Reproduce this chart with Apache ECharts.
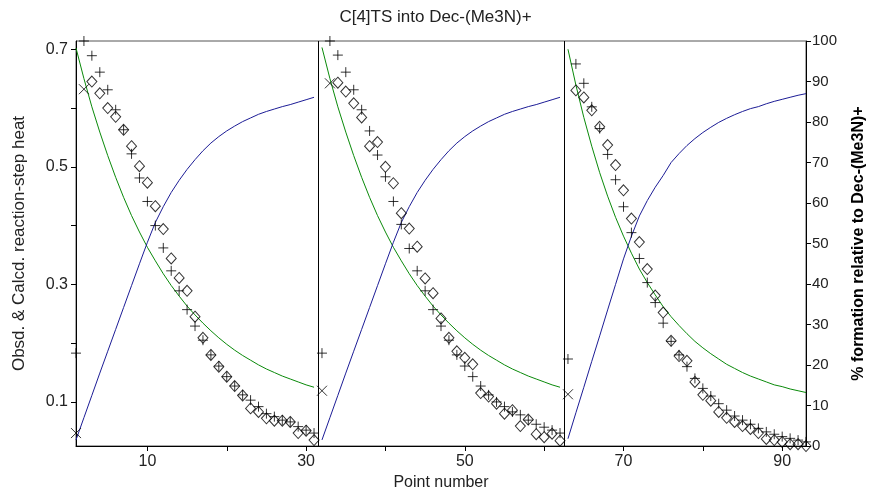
<!DOCTYPE html>
<html>
<head>
<meta charset="utf-8">
<title>C[4]TS into Dec-(Me3N)+</title>
<script src="https://cdn.jsdelivr.net/npm/echarts@6/dist/echarts.min.js"></script>
<style>
  html, body { margin: 0; padding: 0; background: #fff; }
  #chart { width: 871px; height: 490px; }
</style>
</head>
<body>
<div id="chart"></div>
<script>
// Three injection runs, 31 points each; first point number of each run
const runStart = [1, 32, 63];

// Observed reaction-step heat (+), one array per run
const obsd1 = [0.183, 0.714, 0.689, 0.661, 0.631, 0.597, 0.563, 0.522, 0.481, 0.441, 0.400, 0.362, 0.323, 0.289, 0.257, 0.229, 0.205, 0.180, 0.161, 0.143, 0.127, 0.112, 0.103, 0.092, 0.080, 0.075, 0.069, 0.066, 0.058, 0.052, 0.047];
const obsd2 = [0.183, 0.714, 0.690, 0.661, 0.631, 0.597, 0.561, 0.520, 0.483, 0.441, 0.402, 0.361, 0.323, 0.289, 0.257, 0.229, 0.205, 0.180, 0.161, 0.143, 0.127, 0.112, 0.100, 0.092, 0.083, 0.078, 0.069, 0.062, 0.057, 0.052, 0.047];
const obsd3 = [0.173, 0.675, 0.642, 0.602, 0.565, 0.521, 0.478, 0.432, 0.388, 0.344, 0.303, 0.269, 0.234, 0.203, 0.180, 0.160, 0.140, 0.123, 0.110, 0.097, 0.086, 0.076, 0.069, 0.062, 0.055, 0.049, 0.045, 0.041, 0.038, 0.035, 0.032];

// Calculated reaction-step heat (diamonds); null = point left out of the fit
const calcd1 = [null, null, 0.645, 0.625, 0.600, 0.585, 0.563, 0.535, 0.501, 0.473, 0.433, 0.394, 0.344, 0.311, 0.289, 0.245, 0.209, 0.180, 0.160, 0.143, 0.127, 0.111, 0.089, 0.083, 0.072, 0.068, 0.068, 0.066, 0.047, 0.051, 0.035];
const calcd2 = [null, null, 0.643, 0.628, 0.608, 0.584, 0.535, 0.542, 0.500, 0.472, 0.421, 0.395, 0.364, 0.310, 0.285, 0.242, 0.209, 0.186, 0.175, 0.164, 0.115, 0.109, 0.097, 0.080, 0.086, 0.059, 0.070, 0.045, 0.040, 0.046, 0.034];
const calcd3 = [null, 0.630, 0.618, 0.596, 0.568, 0.537, 0.503, 0.460, 0.412, 0.372, 0.326, 0.281, 0.252, 0.204, 0.178, 0.170, 0.134, 0.112, 0.102, 0.083, 0.073, 0.066, 0.059, 0.054, 0.047, 0.037, 0.035, 0.032, 0.028, 0.028, 0.025];

// Points excluded from the fit (x marks)
const exclPoint = [1, 2, 32, 33, 63];
const exclHeat  = [0.047, 0.632, 0.119, 0.642, 0.113];

// Model heat curve (green), per run
const model1 = [0.702, 0.650, 0.602, 0.559, 0.519, 0.482, 0.448, 0.417, 0.389, 0.363, 0.340, 0.318, 0.298, 0.280, 0.263, 0.248, 0.234, 0.221, 0.209, 0.198, 0.188, 0.179, 0.171, 0.163, 0.156, 0.150, 0.144, 0.139, 0.134, 0.129, 0.125];
const model2 = [0.703, 0.650, 0.602, 0.559, 0.519, 0.482, 0.448, 0.417, 0.389, 0.363, 0.340, 0.318, 0.298, 0.280, 0.263, 0.248, 0.234, 0.221, 0.209, 0.198, 0.188, 0.179, 0.171, 0.163, 0.156, 0.150, 0.144, 0.139, 0.134, 0.129, 0.125];
const model3 = [0.700, 0.639, 0.584, 0.535, 0.490, 0.450, 0.414, 0.382, 0.353, 0.326, 0.303, 0.282, 0.262, 0.245, 0.230, 0.216, 0.203, 0.192, 0.182, 0.173, 0.164, 0.157, 0.150, 0.144, 0.139, 0.134, 0.129, 0.126, 0.122, 0.119, 0.116];

// % formation relative to Dec-(Me3N)+ (blue, right axis), per run
const formation1 = [1.5, 7.0, 12.5, 18.0, 23.4, 28.8, 34.2, 39.6, 45.0, 50.3, 55.2, 59.1, 62.6, 65.6, 68.3, 70.7, 72.9, 74.8, 76.4, 77.8, 79.0, 80.1, 81.0, 81.9, 82.6, 83.2, 83.8, 84.3, 84.9, 85.5, 86.1];
const formation2 = [1.5, 7.0, 12.5, 18.0, 23.4, 28.8, 34.2, 39.6, 45.0, 50.3, 55.2, 59.1, 62.6, 65.6, 68.3, 70.7, 72.9, 74.8, 76.4, 77.8, 79.0, 80.1, 81.0, 81.9, 82.6, 83.2, 83.8, 84.3, 84.9, 85.5, 86.1];
const formation3 = [1.8, 8.2, 14.5, 20.9, 27.2, 33.6, 39.9, 46.2, 51.8, 56.8, 60.6, 63.9, 66.8, 70.0, 72.2, 74.2, 75.9, 77.4, 78.7, 79.9, 80.9, 81.8, 82.6, 83.3, 83.8, 84.5, 85.1, 85.6, 86.1, 86.6, 87.0];

// Run boundaries and axis ticks
const runBreaks = [31.5, 62.5];
const xTicks = [10, 20, 30, 40, 50, 60, 70, 80, 90];
const xLabels = [10, 30, 50, 70, 90];
const yTicks = [0.1, 0.2, 0.3, 0.4, 0.5, 0.6, 0.7];
const yLabels = [0.1, 0.3, 0.5, 0.7];

const FONT = "'Liberation Sans', Arial, sans-serif";

function pairs(start, values) {
  return values.map((v, i) => [start + i, v]);
}

const obsd = [obsd1, obsd2, obsd3];
const calcd = [calcd1, calcd2, calcd3];
const model = [model1, model2, model3];
const formation = [formation1, formation2, formation3];

const series = [];
runStart.forEach((s, r) => {
  series.push({
    type: 'line', yAxisIndex: 0, data: pairs(s, model[r]),
    showSymbol: false, symbol: 'none', silent: true,
    lineStyle: { color: '#0a8a0a', width: 1 }, z: 2
  });
  series.push({
    type: 'line', yAxisIndex: 1, data: pairs(s, formation[r]),
    showSymbol: false, symbol: 'none', silent: true,
    lineStyle: { color: '#1c1c96', width: 1 }, z: 2
  });
  series.push({
    type: 'scatter', yAxisIndex: 0, clip: false,
    data: pairs(s, calcd[r]).filter(p => p[1] !== null),
    symbol: 'diamond', symbolSize: [10, 11],
    itemStyle: { color: 'transparent', borderColor: '#000', borderWidth: 1 }, z: 3
  });
  series.push({
    type: 'scatter', yAxisIndex: 0, clip: false,
    data: pairs(s, obsd[r]),
    symbol: 'path://M5,0L5,10M0,5L10,5', symbolSize: 10,
    itemStyle: { color: 'transparent', borderColor: '#000', borderWidth: 1 }, z: 4
  });
});

series.push({
  type: 'scatter', yAxisIndex: 0, clip: false,
  data: exclPoint.map((p, i) => [p, exclHeat[i]]),
  symbol: 'path://M0,0L10,10M10,0L0,10', symbolSize: 10,
  itemStyle: { color: 'transparent', borderColor: '#000', borderWidth: 1 }, z: 4,
  markLine: {
    silent: true, symbol: 'none', label: { show: false },
    lineStyle: { color: '#000', width: 1, type: 'solid' },
    data: runBreaks.map(x => ({ xAxis: x }))
  }
});

const chart = echarts.init(document.getElementById('chart'), null, { renderer: 'canvas' });
chart.setOption({
  animation: false,
  backgroundColor: '#fff',
  textStyle: { fontFamily: FONT },
  title: {
    text: 'C[4]TS into Dec-(Me3N)+', left: 'center', top: 4,
    textStyle: { fontFamily: FONT, fontSize: 17, fontWeight: 'normal', color: '#222' }
  },
  grid: {
    left: 76, right: 65, top: 41, bottom: 44,
    containLabel: false, outerBoundsMode: 'none',
    show: true, borderColor: '#555', borderWidth: 1, backgroundColor: 'transparent'
  },
  xAxis: {
    type: 'value', min: 1, max: 93,
    name: 'Point number', nameLocation: 'middle', nameGap: 27,
    nameTextStyle: { fontFamily: FONT, fontSize: 16, color: '#222' },
    axisLine: { lineStyle: { color: '#000', width: 1 } },
    axisTick: { show: true, length: 5, customValues: xTicks, lineStyle: { color: '#000' } },
    axisLabel: { customValues: xLabels, fontFamily: FONT, fontSize: 16, color: '#222', margin: 8 },
    splitLine: { show: false }
  },
  yAxis: [
    {
      type: 'value', min: 0.025, max: 0.714, position: 'left',
      name: 'Obsd. & Calcd. reaction-step heat', nameLocation: 'middle', nameRotate: 90, nameGap: 48,
      nameTextStyle: { fontFamily: FONT, fontSize: 17, color: '#222' },
      axisLine: { show: true, lineStyle: { color: '#000', width: 1 } },
      axisTick: { show: true, length: 5, customValues: yTicks, lineStyle: { color: '#000' } },
      axisLabel: { customValues: yLabels, fontFamily: FONT, fontSize: 16, color: '#222', margin: 8 },
      splitLine: { show: false }
    },
    {
      type: 'value', min: 0, max: 100, interval: 10, position: 'right',
      name: '% formation relative to Dec-(Me3N)+', nameLocation: 'middle', nameRotate: 90, nameGap: 45,
      nameTextStyle: { fontFamily: FONT, fontSize: 16, fontWeight: 'bold', color: '#000' },
      axisLine: { show: true, lineStyle: { color: '#000', width: 1 } },
      axisTick: { show: true, length: 5, lineStyle: { color: '#000' } },
      axisLabel: { fontFamily: FONT, fontSize: 15, color: '#222', margin: 6 },
      splitLine: { show: false }
    }
  ],
  series: series
});
</script>
</body>
</html>
